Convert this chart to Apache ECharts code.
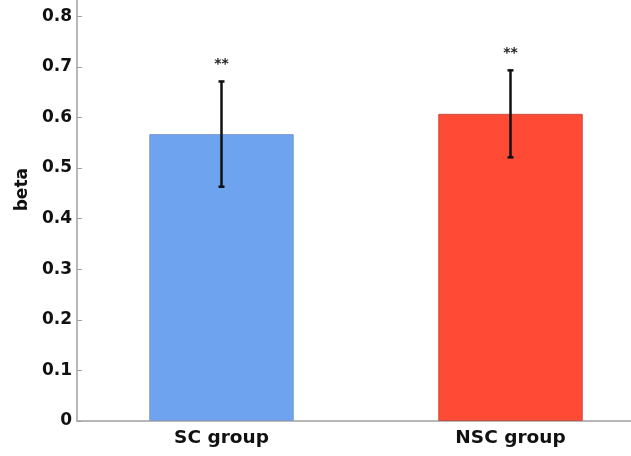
<!DOCTYPE html>
<html>
<head>
<meta charset="utf-8">
<script src="https://cdn.jsdelivr.net/npm/echarts@6/dist/echarts.min.js"></script>
<style>
  html, body { margin: 0; padding: 0; background: #fff; }
  #chart { width: 631px; height: 456px; }
</style>
</head>
<body>
<div id="chart"></div>
<script>
// Group means of beta with their error margins
const groups = ['SC group', 'NSC group'];
const betaMeans = [0.567, 0.607];
const betaErrors = [0.104, 0.086];
const significance = ['**', '**'];
const barColors = ['#6ea3ef', '#ff4a35'];
const barEdges = ['#7f9ccc', '#c8523f'];
const yTicks = [0, 0.1, 0.2, 0.3, 0.4, 0.5, 0.6, 0.7, 0.8];

const fontFamily = '"DejaVu Sans", "Liberation Sans", Arial, sans-serif';

const chart = echarts.init(document.getElementById('chart'), null, { renderer: 'canvas' });

const errorData = groups.map((g, i) => [i, betaMeans[i] - betaErrors[i], betaMeans[i] + betaErrors[i], significance[i]]);

chart.setOption({
  animation: false,
  backgroundColor: '#ffffff',
  grid: { left: 77, top: 0, width: 578, bottom: 35, outerBoundsMode: 'none' },
  graphic: [{
    type: 'text',
    left: 14,
    top: 168,
    rotation: Math.PI / 2,
    style: { text: 'beta', fill: '#111', font: 'bold 17px ' + fontFamily }
  }],
  xAxis: {
    type: 'category',
    data: groups,
    axisLine: { show: true, lineStyle: { color: '#a0a0a0', width: 1.5 } },
    axisTick: { show: false },
    axisLabel: {
      color: '#111', fontSize: 18.5, fontWeight: 'bold', fontFamily: fontFamily, margin: 8
    }
  },
  yAxis: {
    type: 'value',
    min: 0,
    max: 0.832,
    splitLine: { show: false },
    axisLine: { show: true, lineStyle: { color: '#a0a0a0', width: 1.5 } },
    axisTick: { show: true, inside: true, length: 5, lineStyle: { color: '#a0a0a0' }, customValues: yTicks },
    axisLabel: {
      color: '#111', fontSize: 17, fontWeight: 'bold', fontFamily: fontFamily, margin: 5,
      customValues: yTicks,
      formatter: v => (v === 0 ? '0' : v.toFixed(1))
    }
  },
  series: [
    {
      type: 'bar',
      barWidth: '50%',
      data: betaMeans.map((v, i) => ({
        value: v,
        itemStyle: { color: barColors[i], borderColor: barEdges[i], borderWidth: 1 }
      })),
      z: 2
    },
    {
      type: 'custom',
      z: 5,
      data: errorData,
      encode: { x: 0, y: [1, 2] },
      renderItem: function (params, api) {
        const x = api.value(0);
        const lo = api.coord([x, api.value(1)]);
        const hi = api.coord([x, api.value(2)]);
        const cap = 3;
        const style = { stroke: '#111', lineWidth: 2.5 };
        return {
          type: 'group',
          children: [
            { type: 'line', shape: { x1: hi[0], y1: hi[1], x2: lo[0], y2: lo[1] }, style: style },
            { type: 'line', shape: { x1: hi[0] - cap, y1: hi[1], x2: hi[0] + cap, y2: hi[1] }, style: style },
            { type: 'line', shape: { x1: lo[0] - cap, y1: lo[1], x2: lo[0] + cap, y2: lo[1] }, style: style },
            {
              type: 'text',
              style: {
                text: api.value(3), x: hi[0], y: hi[1] - 17,
                fill: '#222', font: 'bold 14px ' + fontFamily,
                textAlign: 'center', textVerticalAlign: 'middle'
              }
            }
          ]
        };
      }
    }
  ]
});
</script>
</body>
</html>
